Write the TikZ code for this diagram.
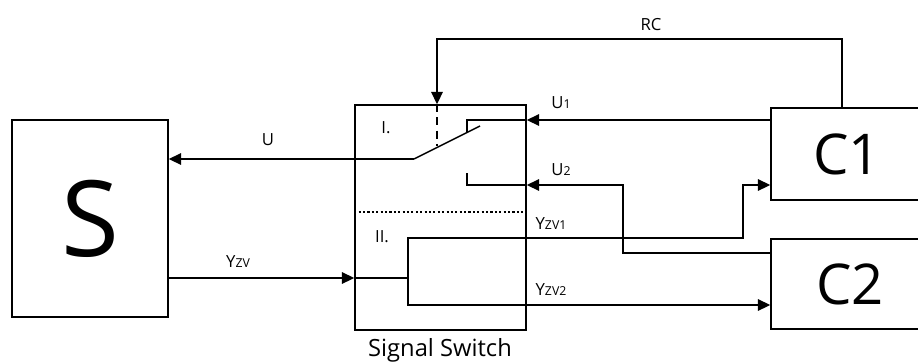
\documentclass[tikz,border=0pt]{standalone}
\usepackage{fontspec}
\setmainfont{Open Sans}
\usetikzlibrary{arrows.meta, positioning, calc}
\newcommand{\sbs}[1]{{\fontsize{7}{8}\selectfont #1}}

\begin{document}
\begin{tikzpicture}[x=0.02cm, y=-0.02cm, line width=0.85pt,
  block/.style={draw, rectangle, inner sep=0pt, line width=0.85pt},
  arr/.style={-{Triangle[length=7pt, width=6.5pt]}},
  lbl/.style={font=\fontsize{9.5}{11}\selectfont, inner sep=1pt}]

\useasboundingbox (0,0) rectangle (918,363);
\clip (0,0) rectangle (918,363);

% Blocks
\node[block, minimum width=3.12cm, minimum height=3.94cm,
      font=\fontsize{60}{60}\selectfont] (S) at (90,218.5) {S};
\node[block, minimum width=3.42cm, minimum height=4.5cm] (SW) at (440.5,217.5) {};
\node[block, minimum width=3.04cm, minimum height=1.84cm,
      font=\fontsize{32}{32}\selectfont] (C1) at (847,154) {C1};
\node[block, minimum width=3.16cm, minimum height=1.8cm,
      font=\fontsize{32}{32}\selectfont] (C2) at (850,284) {C2};
\node[font=\fontsize{13.5}{15}\selectfont] (swlbl) at (440,350) {Signal Switch};

% Switch contacts and routing points
\coordinate (lev0) at (414,159);
\coordinate (lev1) at (480,126);
\coordinate (t1) at (467,132);
\coordinate (t2) at (467,173);
\coordinate (rcC) at (842,108);
\coordinate (rcTop) at (437,39);
\coordinate (rcLev) at (437,146);
\coordinate (yU1) at (0,120);
\coordinate (u2low) at (623,253);
\coordinate (u2k) at (623,185);
\coordinate (split) at (408,278);
\coordinate (k1) at (743,238);
\coordinate (k1in) at (743,185);
\coordinate (k2) at (0,305);
\coordinate (dv) at (0,212);

% RC feedback
\draw[arr] (rcC) |- (rcTop) -- (rcTop |- SW.north);
\draw[dash pattern=on 4.5pt off 3pt, line width=1.1pt] (rcTop |- SW.north) -- (rcLev);

% Switch I.
\draw[arr] (C1.west |- yU1) -- (SW.east |- yU1);
\draw (SW.east |- yU1) -| (t1);
\draw (lev0) -- (lev1);
\draw[arr] (lev0) -- (S.east |- lev0);
\draw[arr] (u2low -| C2.west) -| (u2k) -- (u2k -| SW.east);
\draw (u2k -| SW.east) -| (t2);

% Separator
\draw[dash pattern=on 1.2pt off 1.3pt] (SW.west |- dv) -- (SW.east |- dv);

% Switch II.
\draw[arr] (S.east |- split) -- (split -| SW.west);
\draw (split -| SW.west) -- (split);
\draw[arr] (split) |- (k1) |- (C1.west |- k1in);
\draw[arr] (split) |- (C2.west |- k2);

% Labels
\node[lbl] (lRC) at (651,25) {RC};
\node[lbl] (lU) at (268,140) {U};
\node[lbl] (lU1) at (561,103) {U\sbs{1}};
\node[lbl] (lU2) at (561,170) {U\sbs{2}};
\node[lbl] (lY) at (238,262) {Y\sbs{ZV}};
\node[lbl] (lY1) at (551,224) {Y\sbs{ZV1}};
\node[lbl] (lY2) at (551,290) {Y\sbs{ZV2}};
\node[lbl] (lI) at (386,128) {I.};
\node[lbl] (lII) at (382,237) {II.};

\end{tikzpicture}
\end{document}
